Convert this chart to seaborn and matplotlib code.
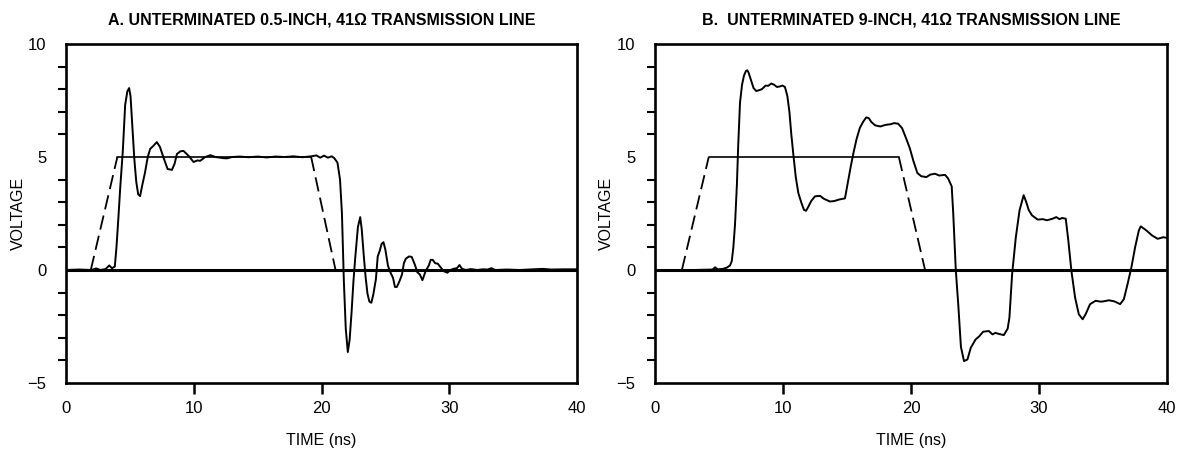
import matplotlib
matplotlib.use("Agg")
import matplotlib.pyplot as plt
import numpy as np
import pandas as pd
import seaborn as sns

# ---- measured output waveform, 0.5-inch line (ns, V) ----
a_time = [0, 1.0, 2.0, 2.35, 2.7, 3.1, 3.38, 3.6, 3.82, 3.95, 4.1, 4.24, 4.45, 4.63,
          4.8, 4.94, 5.05, 5.2, 5.35, 5.5, 5.65, 5.8, 5.95, 6.18, 6.4, 6.59, 6.85,
          7.11, 7.35, 7.65, 7.95, 8.29, 8.5, 8.68, 8.95, 9.2, 9.6, 9.98, 10.3, 10.5,
          10.9, 11.3, 11.7, 12.3, 12.6, 13.0, 13.6, 14.3, 15.0, 15.7, 16.4, 17.1,
          17.8, 18.5, 19.2, 19.6, 19.9, 20.2, 20.5, 20.8, 21.0, 21.25, 21.45, 21.6,
          21.75, 21.9, 22.06, 22.2, 22.35, 22.5, 22.65, 22.85, 23.03, 23.15, 23.3,
          23.45, 23.6, 23.75, 23.9, 24.05, 24.26, 24.4, 24.56, 24.7, 24.85, 25.0,
          25.2, 25.35, 25.6, 25.75, 25.9, 26.1, 26.3, 26.45, 26.6, 26.85, 27.06,
          27.3, 27.5, 27.7, 27.9, 28.15, 28.4, 28.55, 28.7, 28.9, 29.1, 29.35,
          29.56, 29.85, 30.05, 30.3, 30.6, 30.8, 31.0, 31.3, 31.7, 32.2, 32.6, 33.0,
          33.3, 33.6, 34.5, 35.5, 36.5, 37.3, 38.0, 39.0, 40.0]
a_volt = [0, 0.02, 0.0, 0.07, 0.0, 0.04, 0.2, 0.08, 0.15, 1.0, 2.3, 3.6, 5.3, 7.3,
          7.9, 8.05, 7.7, 6.3, 4.9, 3.9, 3.35, 3.27, 3.7, 4.3, 5.0, 5.36, 5.5,
          5.66, 5.45, 4.95, 4.47, 4.43, 4.7, 5.13, 5.25, 5.27, 5.05, 4.78, 4.85, 4.83,
          5.0, 5.08, 5.0, 4.95, 4.94, 5.0, 5.02, 4.99, 5.02, 4.98, 5.02, 5.0,
          5.03, 4.99, 5.03, 5.07, 4.97, 5.06, 4.97, 5.03, 4.95, 4.75, 4.0, 2.5,
          -0.5, -2.6, -3.63, -3.1, -1.9, -0.5, 0.6, 1.9, 2.34, 1.8, 0.7,
          -0.3, -1.05, -1.4, -1.45, -1.1, -0.4, 0.6, 0.85, 1.15, 1.23, 0.9,
          0.2, -0.05, -0.35, -0.75, -0.75, -0.5, -0.2, 0.3, 0.5, 0.6, 0.58,
          0.25, -0.1, -0.2, -0.45, -0.05, 0.2, 0.45, 0.45, 0.3, 0.28, 0.1,
          -0.05, -0.12, -0.02, 0.05, 0.08, 0.22, 0.05, 0.0, 0.04, 0.0, 0.03, 0.02,
          0.08, 0.0, 0.02, 0.0, 0.03, 0.05, 0.02, 0.03, 0.03]

# ---- measured output waveform, 9-inch line (ns, V) ----
b_time = [0, 3.0, 4.5, 4.69, 4.9, 5.3, 5.6, 5.86, 6.0, 6.12, 6.25, 6.4, 6.5, 6.64,
          6.8, 6.95, 7.1, 7.2, 7.3, 7.47, 7.7, 7.91, 8.1, 8.35, 8.64, 8.85, 9.08,
          9.3, 9.52, 9.75, 9.96, 10.15, 10.34, 10.5, 10.65, 10.81, 11.0, 11.2,
          11.45, 11.64, 11.8, 11.98, 12.2, 12.5, 12.9, 13.2, 13.67, 14.0, 14.4,
          14.84, 15.1, 15.3, 15.5, 15.75, 16.0, 16.25, 16.5, 16.7, 16.9, 17.2,
          17.6, 18.0, 18.4, 18.7, 19.0, 19.3, 19.6, 19.9, 20.2, 20.5, 20.8, 21.2,
          21.5, 21.88, 22.2, 22.66, 22.9, 23.18, 23.3, 23.5, 23.7, 23.9, 24.14,
          24.41, 24.67, 25.05, 25.3, 25.64, 26.08, 26.37, 26.6, 26.81, 27.05,
          27.25, 27.55, 27.69, 27.9, 28.19, 28.48, 28.8, 29.0, 29.2, 29.45, 29.9,
          30.3, 30.62, 31.06, 31.35, 31.6, 31.8, 32.09, 32.29, 32.53, 32.82,
          33.11, 33.41, 33.64, 33.99, 34.43, 34.8, 35.02, 35.46, 35.9, 36.34,
          36.63, 36.92, 37.22, 37.51, 37.8, 37.95, 38.39, 38.83, 39.27, 39.71, 40.0]
b_volt = [0, 0.0, 0.02, 0.12, 0.03, 0.05, 0.1, 0.2, 0.4, 1.0, 2.0, 3.8, 5.5, 7.4,
          8.2, 8.6, 8.8, 8.84, 8.75, 8.45, 8.05, 7.92, 7.95, 8.0, 8.16, 8.15, 8.25,
          8.2, 8.1, 8.12, 8.16, 8.1, 7.7, 7.0, 6.0, 5.1, 4.1, 3.4,
          2.95, 2.66, 2.62, 2.8, 3.05, 3.26, 3.28, 3.15, 3.03, 3.05, 3.12,
          3.17, 3.99, 4.6, 5.17, 5.8, 6.28, 6.55, 6.75, 6.72, 6.55, 6.4,
          6.35, 6.42, 6.45, 6.5, 6.47, 6.28, 5.85, 5.4, 4.8, 4.29, 4.15, 4.11,
          4.22, 4.26, 4.18, 4.21, 4.05, 3.7, 2.5, 0.0, -1.6, -3.4, -4.03,
          -3.96, -3.44, -3.07, -2.95, -2.73, -2.7, -2.85, -2.78, -2.82, -2.85,
          -2.88, -2.6, -2.1, -0.18, 1.45, 2.64, 3.31, 3.01, 2.65, 2.42, 2.23,
          2.25, 2.2, 2.27, 2.34, 2.25, 2.3, 2.27, 1.31, -0.03, -1.22,
          -1.96, -2.18, -1.96, -1.51, -1.36, -1.4, -1.39, -1.34, -1.39, -1.51,
          -1.29, -0.62, 0.12, 1.01, 1.75, 1.93, 1.75, 1.53, 1.38, 1.45, 1.42]

# ---- ideal drive pulse corners (ns, V) ----
a_drive_time = [1.94, 4.02, 19.19, 21.1]
b_drive_time = [2.1, 4.2, 19.05, 21.1]
drive_volt = [0, 5, 5, 0]

titles = ["A. UNTERMINATED 0.5-INCH, 41\u03a9 TRANSMISSION LINE",
          "B.  UNTERMINATED 9-INCH, 41\u03a9 TRANSMISSION LINE"]
x_ticks = [0, 10, 20, 30, 40]
y_ticks = [-5, 0, 5, 10]

sns.set_style("white")
plt.rcParams["font.family"] = ["Liberation Sans", "DejaVu Sans"]
for key in ("text.color", "axes.labelcolor", "xtick.color", "ytick.color"):
    plt.rcParams[key] = "black"

W, H = 1180, 455
fig = plt.figure(figsize=(W / 100, H / 100), dpi=100)
ax_a = fig.add_axes([66 / W, (H - 383) / H, 511 / W, (383 - 44) / H])
ax_b = fig.add_axes([655 / W, (H - 383) / H, 512 / W, (383 - 44) / H])

panels = [
    (ax_a, a_time, a_volt, a_drive_time, titles[0]),
    (ax_b, b_time, b_volt, b_drive_time, titles[1]),
]

title_font = ["Liberation Sans Narrow", "Liberation Sans", "DejaVu Sans"]
edge_dash = (0, (8, 3.5))

for ax, t, v, dt, title in panels:
    trace = pd.DataFrame({"t": t, "v": v})
    drive = pd.DataFrame({"t": dt, "v": drive_volt})

    # zero reference line
    ax.axhline(0, color="black", lw=2.2, zorder=1)

    # drive pulse: dashed edges, solid top
    sns.lineplot(data=drive.iloc[0:2], x="t", y="v", ax=ax, color="black",
                 lw=1.3, linestyle=edge_dash, sort=False, estimator=None, zorder=2)
    sns.lineplot(data=drive.iloc[1:3], x="t", y="v", ax=ax, color="black",
                 lw=1.2, sort=False, estimator=None, zorder=2)
    sns.lineplot(data=drive.iloc[2:4], x="t", y="v", ax=ax, color="black",
                 lw=1.3, linestyle=edge_dash, sort=False, estimator=None, zorder=2)

    # measured response
    sns.lineplot(data=trace, x="t", y="v", ax=ax, color="black", lw=1.4,
                 sort=False, estimator=None, zorder=3)

    ax.set_xlim(0, 40)
    ax.set_ylim(-5, 10)

    ax.set_xticks(x_ticks)
    ax.set_yticks(y_ticks)
    ax.set_yticks([i for i in range(-4, 10) if i % 5 != 0], minor=True)
    ax.tick_params(axis="x", which="major", length=8, width=1.8, color="black",
                   direction="out", bottom=True, pad=5, labelsize=12)
    ax.tick_params(axis="y", which="major", length=0, pad=14, labelsize=12)
    ax.tick_params(axis="y", which="minor", length=6, width=1.5,
                   direction="out", left=True)
    # no tick marks at the panel corners
    for tk in (ax.xaxis.get_major_ticks()[0], ax.xaxis.get_major_ticks()[-1]):
        tk.tick1line.set_visible(False)

    for s in ax.spines.values():
        s.set_visible(True)
        s.set_linewidth(1.9)
        s.set_color("black")

    ax.set_xlabel("TIME (ns)", fontsize=11.5, va="center")
    ax.xaxis.set_label_coords(0.5, -(440 - 383) / 339)
    ax.set_ylabel("VOLTAGE", fontsize=11.5, va="center")
    ax.yaxis.set_label_coords(-48 / 511, 0.5)

    fig.text((ax.get_position().x0 + ax.get_position().x1) / 2, 1 - 20 / H,
             title, ha="center", va="center", fontsize=11.5, fontweight="bold",
             family=title_font)

fig.savefig("out.png", dpi=100)
